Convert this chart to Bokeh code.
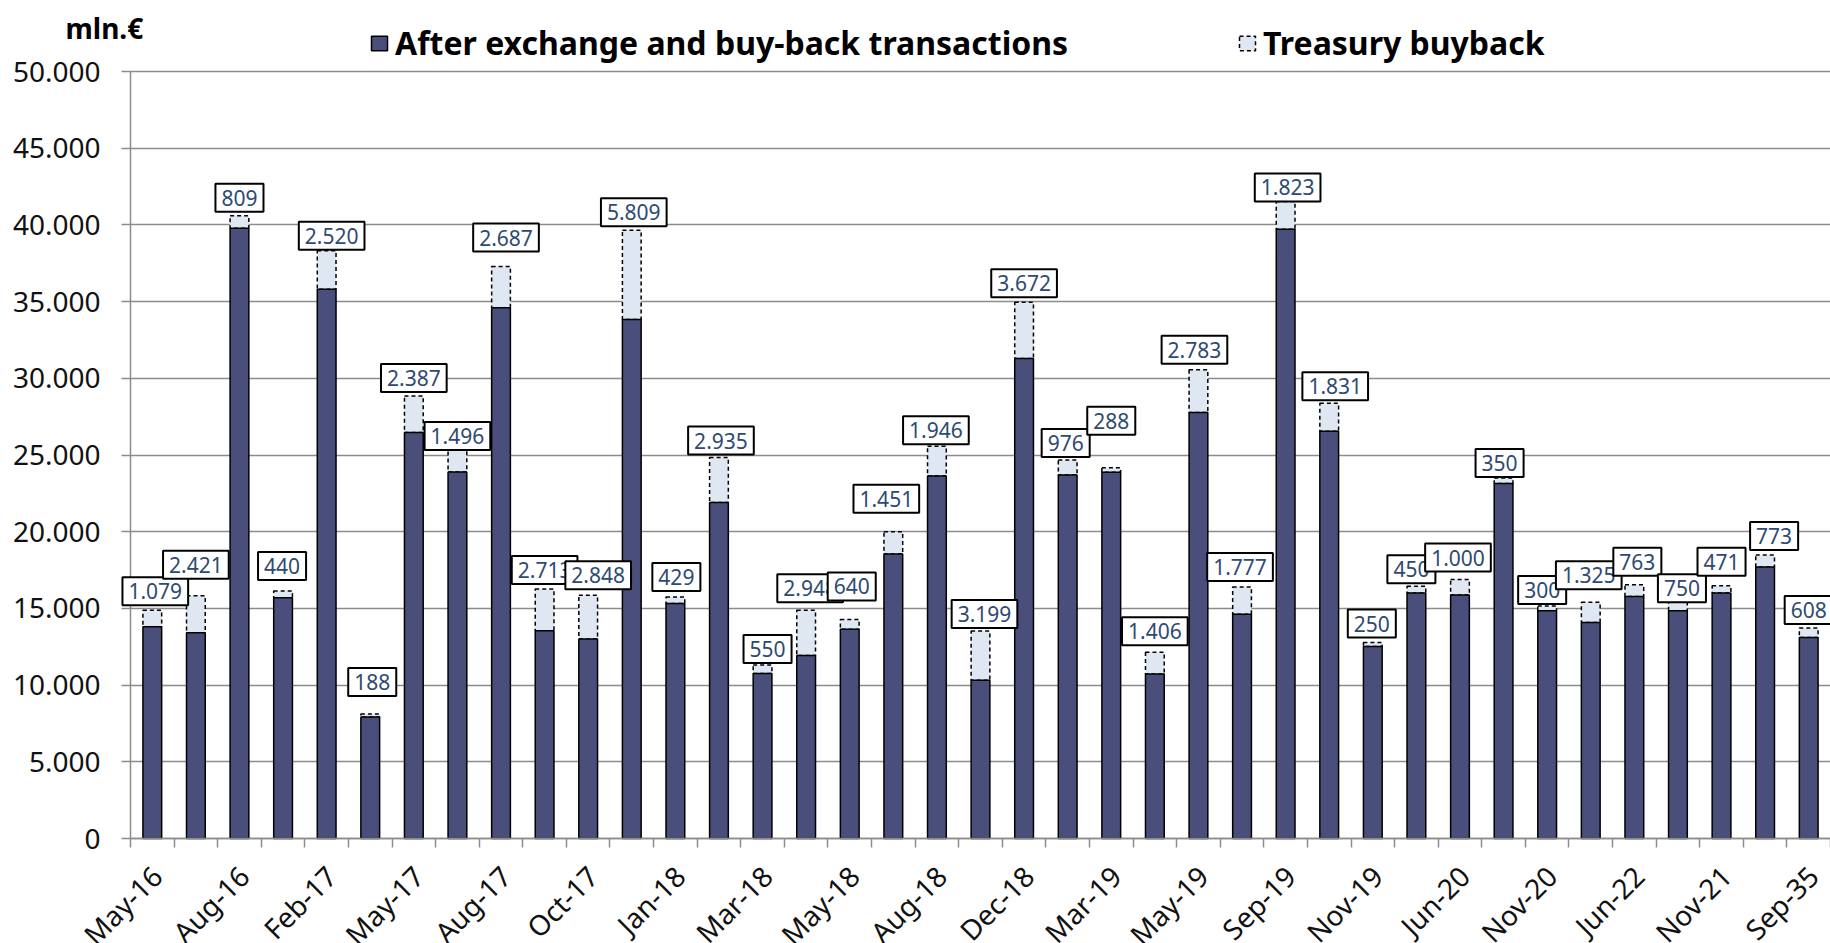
import math
from bokeh.plotting import figure
from bokeh.layouts import column
from bokeh.models import (Range1d, FixedTicker, Label, LabelSet, ColumnDataSource, Legend,
                          LegendItem)
from bokeh.core.properties import value
from bokeh.embed import file_html
from bokeh.resources import INLINE

# ---------------- data ----------------
tick_labels = ["May-16", "Aug-16", "Feb-17", "May-17", "Aug-17", "Oct-17", "Jan-18",
               "Mar-18", "May-18", "Aug-18", "Dec-18", "Mar-19", "May-19", "Sep-19",
               "Nov-19", "Jun-20", "Nov-20", "Jun-22", "Nov-21", "Sep-35"]

after_exchange = [13800, 13410, 39780, 15690, 35800, 7920, 26460, 23890, 34600, 13550,
                  13010, 33840, 15320, 21900, 10760, 11930, 13640, 18540, 23630, 10320,
                  31290, 23700, 23880, 10730, 27770, 14620, 39710, 26550, 12520, 16000,
                  15880, 23150, 14850, 14080, 15780, 14850, 16000, 17700, 13110]

treasury_buyback = [1079, 2421, 809, 440, 2520, 188, 2387, 1496, 2687, 2713,
                    2848, 5809, 429, 2935, 550, 2948, 640, 1451, 1946, 3199,
                    3672, 976, 288, 1406, 2783, 1777, 1823, 1831, 250, 450,
                    1000, 350, 300, 1325, 763, 750, 471, 773, 608]

y_ticks = list(range(0, 50001, 5000))

# label-box placement tweaks (screen pixels): horizontal shift, gap above the bar
label_dx = [3, 0, 0, -1, 5, 2, 0, 0, 5, 0, 10, 2, 1, 2, 5, 4, 2, -7, -1, 4,
            0, -2, 0, 0, -4, -2, 2, 6, -1, -5, -2, -4, -5, -2, 3, 4, 0, 9, 0]
label_lift = [5, 17, 4, 11, 1, 18, 4, -1, 15, 5, 6, 4, 6, 3, 2, 8, 19, 19, 2, 3,
              5, 3, 33, 7, 6, 6, 0, 3, 5, 3, 8, 1, 2, 13, 9, -3, 10, 5, 4]

# ---------------- styling / layout ----------------
DARK = "#4a4e7b"
LIGHT = "#dfe8f2"
GRID = "#8c8c8c"
LABEL_TXT = "#2e4a72"
FONT = "Noto Sans"

W = 1830
H = 943
LEFT = 130           # page x of the value axis
HEAD_H = 71          # header canvas: page y 0..71 (top of plot area)
OVERLAP = 30         # main canvas starts this much above the plot area
AXIS_Y = 838         # page y of the zero line
MAIN_H = H - HEAD_H + OVERLAP
Y_MAX = 50000
PX = Y_MAX / (AXIS_Y - HEAD_H)                 # data units per pixel
Y_TOP = Y_MAX + OVERLAP * PX
Y_BOT = -(H - AXIS_Y) * PX


def fmt(v):
    return f"{v:,}".replace(",", ".")


n = len(after_exchange)
xs = [i + 0.5 for i in range(n)]
totals = [a + b for a, b in zip(after_exchange, treasury_buyback)]
src = ColumnDataSource(dict(x=xs, base=after_exchange, top=totals))
cat_w = (W - LEFT) / n

# ---------------- main chart (frame covers the whole canvas) ----------------
p = figure(width=W, height=MAIN_H, x_range=Range1d(-LEFT / cat_w, n),
           y_range=Range1d(Y_BOT, Y_TOP),
           output_backend="svg", toolbar_location=None, frame_align=False,
           min_border_left=0, min_border_right=0, min_border_top=0, min_border_bottom=0)
p.background_fill_alpha = 0
p.border_fill_alpha = 0
p.outline_line_color = None
try:
    p.margin = (-OVERLAP, 0, 0, 0)
except Exception:
    p.styles = {"margin-top": f"-{OVERLAP}px"}

r_buy = p.vbar(x="x", bottom="base", top="top", width=0.43, source=src,
               fill_color=LIGHT, line_color="black", line_width=1.5, line_dash="4 3")
r_base = p.vbar(x="x", bottom=0, top="base", width=0.43, source=src,
                fill_color=DARK, line_color="black", line_width=1.5)

yax = p.yaxis[0]
yax.fixed_location = 0
yax.bounds = (0, Y_MAX)
yax.ticker = FixedTicker(ticks=y_ticks)
yax.major_label_overrides = {t: fmt(t) for t in y_ticks}
yax.major_label_text_font = FONT
yax.major_label_text_font_size = "28px"
yax.major_label_text_color = "#111111"
yax.major_label_standoff = 21
yax.major_tick_out = 9
yax.major_tick_in = 0
yax.major_tick_line_color = GRID
yax.major_tick_line_width = 1.5
yax.minor_tick_line_color = None
yax.axis_line_color = GRID
yax.axis_line_width = 1.5

xax = p.xaxis[0]
xax.fixed_location = 0
xax.bounds = (0, n)
xax.ticker = FixedTicker(ticks=[], minor_ticks=list(range(0, n + 1)))
xax.major_label_text_font_size = "0px"
xax.major_label_standoff = 0
xax.major_tick_line_color = None
xax.minor_tick_out = 9
xax.minor_tick_in = 0
xax.minor_tick_line_color = GRID
xax.minor_tick_line_width = 1.5
xax.axis_line_color = GRID
xax.axis_line_width = 1.5

p.xgrid.visible = False
grid_ok = True
try:
    p.ygrid.cross_bounds = (0, n)
except Exception:
    grid_ok = False
if grid_ok:
    p.ygrid.grid_line_color = GRID
    p.ygrid.grid_line_width = 1.5
    p.ygrid.ticker = FixedTicker(ticks=y_ticks)
else:
    p.ygrid.visible = False
    p.segment(x0=[0] * len(y_ticks), x1=[n] * len(y_ticks), y0=y_ticks, y1=y_ticks,
              line_color=GRID, line_width=1.5, level="underlay")

# category labels, every other bar, rotated 45 degrees
cat_src = ColumnDataSource(dict(x=xs[::2], y=[0] * len(tick_labels), text=tick_labels))
p.add_layout(LabelSet(x="x", y="y", text="text", source=cat_src, angle=math.pi / 4,
                      text_align="right", text_baseline="top", x_offset=-9, y_offset=-19,
                      text_font=value(FONT), text_font_size="28px", text_color="#111111"))

PAD = 6
for i in range(n):
    txt = fmt(treasury_buyback[i])
    for (ox, oy, a) in [(6, -6, 0.10), (4, -4, 0.18)]:
        p.add_layout(Label(x=xs[i], y=totals[i], text=txt,
                           x_offset=label_dx[i] + ox, y_offset=label_lift[i] + oy,
                           text_align="center", text_baseline="bottom",
                           text_font=FONT, text_font_size="21px", text_alpha=0,
                           background_fill_color="black", background_fill_alpha=a,
                           padding=PAD))
for i in range(n):
    txt = fmt(treasury_buyback[i])
    p.add_layout(Label(x=xs[i], y=totals[i], text=txt,
                       x_offset=label_dx[i], y_offset=label_lift[i],
                       text_align="center", text_baseline="bottom",
                       text_font=FONT, text_font_size="21px", text_color=LABEL_TXT,
                       background_fill_color="white", background_fill_alpha=1.0,
                       border_line_color="black", border_line_width=2,
                       padding=PAD))

# ---------------- header: unit + legend ----------------
head = figure(width=W, height=HEAD_H, x_range=Range1d(0, W), y_range=Range1d(0, HEAD_H),
              output_backend="svg", toolbar_location=None, frame_align=False,
              x_axis_type=None, y_axis_type=None,
              min_border_left=0, min_border_right=0, min_border_top=0, min_border_bottom=0)
head.outline_line_color = None
head.grid.grid_line_color = None
head.background_fill_color = "white"
head.border_fill_color = "white"

head.text(x=[65], y=[HEAD_H - 27], text=["mln.€"], text_align="left",
          text_baseline="middle", text_font=value(FONT), text_font_size="28px",
          text_font_style="bold", text_color="black")

# legend carriers (kept outside the visible header range)
dummy = ColumnDataSource(dict(x=[-1000], top=[-1000]))
d_base = head.vbar(x="x", top="top", width=1, source=dummy,
                   fill_color=DARK, line_color="black", line_width=1.5)
d_buy = head.vbar(x="x", top="top", width=1, source=dummy,
                  fill_color=LIGHT, line_color="black", line_width=1.5, line_dash="4 3")


def make_legend(label, r, loc):
    return Legend(items=[LegendItem(label=label, renderers=[r])], location=loc,
                  orientation="horizontal", glyph_width=20, glyph_height=18,
                  label_standoff=6, label_text_font=FONT, label_text_font_size="32px",
                  label_text_font_style="bold", label_text_color="black",
                  border_line_color=None, background_fill_alpha=0, padding=0, margin=0,
                  spacing=0)


LEG_Y = (HEAD_H - 43) - 21
head.add_layout(make_legend("After exchange and buy-back transactions", d_base, (369, LEG_Y)))
head.add_layout(make_legend("Treasury buyback", d_buy, (1237, LEG_Y)))

layout = column(head, p, spacing=0)
open("out.html", "w").write(file_html(layout, INLINE))
